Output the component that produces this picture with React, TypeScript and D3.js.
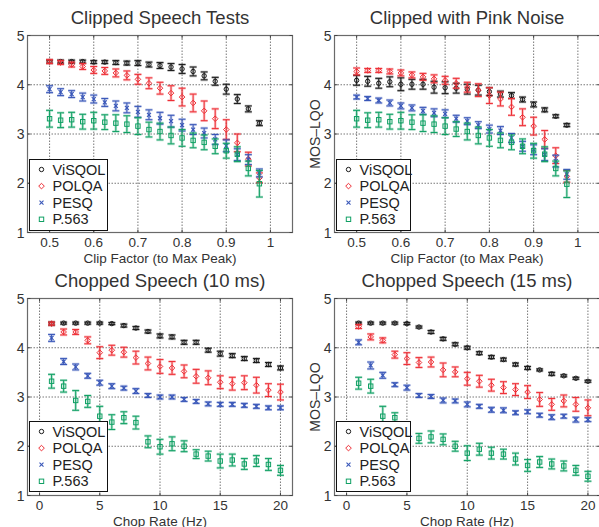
import React, { useEffect, useRef } from 'react';
import * as d3 from 'd3';

// methods and their colours
const methods = ['ViSQOL', 'POLQA', 'PESQ', 'P.563'];
const colors = ['#1a1a1a', '#ee2f36', '#3856b8', '#10a064'];

// x values
const clipFactors = [0.5, 0.525, 0.55, 0.575, 0.6, 0.625, 0.65, 0.675, 0.7, 0.725, 0.75, 0.775, 0.8, 0.825, 0.85, 0.875, 0.9, 0.925, 0.95, 0.975];
const chopRates = [1, 2, 3, 4, 5, 6, 7, 8, 9, 10, 11, 12, 13, 14, 15, 16, 17, 18, 19, 20];

// tick labels
const yTicks = [1, 2, 3, 4, 5];
const clipTicks = [0.5, 0.6, 0.7, 0.8, 0.9, 1];
const chopTicks = [0, 5, 10, 15, 20];

// Clipped Speech Tests
const csVisqol = [4.47, 4.47, 4.47, 4.47, 4.46, 4.46, 4.45, 4.44, 4.44, 4.41, 4.39, 4.36, 4.32, 4.27, 4.18, 4.07, 3.91, 3.71, 3.51, 3.22];
const csVisqolErr = [0.03, 0.03, 0.03, 0.03, 0.03, 0.03, 0.04, 0.04, 0.05, 0.05, 0.06, 0.07, 0.09, 0.09, 0.08, 0.08, 0.1, 0.09, 0.06, 0.05];
const csPolqa = [4.47, 4.45, 4.41, 4.37, 4.3, 4.28, 4.24, 4.19, 4.11, 4.03, 3.93, 3.83, 3.75, 3.63, 3.47, 3.31, 3.09, 2.82, 2.49, 2.11];
const csPolqaErr = [0.04, 0.04, 0.05, 0.06, 0.07, 0.07, 0.08, 0.09, 0.1, 0.11, 0.12, 0.15, 0.18, 0.18, 0.2, 0.2, 0.2, 0.18, 0.14, 0.1];
const csPesq = [3.91, 3.85, 3.81, 3.75, 3.71, 3.64, 3.57, 3.53, 3.45, 3.39, 3.32, 3.26, 3.18, 3.09, 3.02, 2.89, 2.76, 2.58, 2.48, 2.21];
const csPesqErr = [0.07, 0.07, 0.07, 0.08, 0.08, 0.08, 0.1, 0.1, 0.11, 0.1, 0.12, 0.12, 0.12, 0.1, 0.1, 0.1, 0.12, 0.12, 0.1, 0.08];
const csP563 = [3.31, 3.28, 3.29, 3.25, 3.27, 3.24, 3.22, 3.2, 3.16, 3.09, 3.05, 2.97, 2.92, 2.87, 2.83, 2.75, 2.66, 2.59, 2.3, 1.99];
const csP563Err = [0.17, 0.15, 0.15, 0.15, 0.17, 0.15, 0.17, 0.17, 0.17, 0.15, 0.17, 0.17, 0.17, 0.15, 0.15, 0.15, 0.15, 0.15, 0.15, 0.27];

// Clipped with Pink Noise
const pnVisqol = [4.09, 4.07, 4.03, 4.06, 4.01, 4.01, 4.01, 3.95, 3.94, 3.93, 3.91, 3.89, 3.86, 3.81, 3.78, 3.7, 3.6, 3.49, 3.36, 3.18];
const pnVisqolErr = [0.1, 0.1, 0.1, 0.1, 0.13, 0.1, 0.1, 0.12, 0.12, 0.1, 0.1, 0.1, 0.08, 0.06, 0.06, 0.05, 0.05, 0.04, 0.03, 0.03];
const pnPolqa = [4.27, 4.29, 4.29, 4.27, 4.24, 4.2, 4.16, 4.12, 4.09, 4.03, 3.95, 3.89, 3.78, 3.71, 3.55, 3.34, 3.16, 2.89, 2.56, 2.14];
const pnPolqaErr = [0.07, 0.04, 0.04, 0.05, 0.06, 0.06, 0.07, 0.08, 0.08, 0.1, 0.1, 0.13, 0.16, 0.14, 0.17, 0.17, 0.18, 0.18, 0.16, 0.12];
const pnPesq = [3.75, 3.72, 3.68, 3.63, 3.57, 3.53, 3.47, 3.43, 3.41, 3.31, 3.26, 3.18, 3.1, 3.07, 2.92, 2.75, 2.68, 2.58, 2.45, 2.18];
const pnPesqErr = [0.04, 0.04, 0.05, 0.06, 0.06, 0.06, 0.07, 0.08, 0.08, 0.07, 0.07, 0.07, 0.08, 0.08, 0.09, 0.1, 0.1, 0.12, 0.12, 0.1];
const pnP563 = [3.31, 3.28, 3.29, 3.25, 3.27, 3.24, 3.22, 3.2, 3.16, 3.1, 3.05, 2.97, 2.92, 2.87, 2.83, 2.75, 2.66, 2.59, 2.3, 1.98];
const pnP563Err = [0.17, 0.15, 0.15, 0.15, 0.17, 0.15, 0.17, 0.17, 0.17, 0.15, 0.17, 0.17, 0.17, 0.15, 0.15, 0.15, 0.15, 0.15, 0.15, 0.27];

// Chopped Speech (10 ms)
const c10Visqol = [4.49, 4.5, 4.5, 4.5, 4.5, 4.49, 4.45, 4.4, 4.33, 4.24, 4.22, 4.11, 4.11, 3.95, 3.88, 3.84, 3.78, 3.74, 3.66, 3.59];
const c10VisqolErr = [0.03, 0.02, 0.02, 0.02, 0.02, 0.02, 0.03, 0.03, 0.03, 0.04, 0.04, 0.04, 0.04, 0.04, 0.05, 0.04, 0.04, 0.04, 0.04, 0.04];
const c10Polqa = [4.49, 4.32, 4.32, 4.15, 3.9, 3.95, 3.91, 3.8, 3.68, 3.62, 3.59, 3.52, 3.42, 3.39, 3.3, 3.27, 3.29, 3.24, 3.14, 3.1];
const c10PolqaErr = [0.03, 0.06, 0.05, 0.07, 0.12, 0.1, 0.1, 0.13, 0.13, 0.14, 0.13, 0.13, 0.14, 0.14, 0.13, 0.13, 0.14, 0.16, 0.13, 0.16];
const c10Pesq = [4.2, 3.72, 3.61, 3.43, 3.29, 3.22, 3.18, 3.12, 3.03, 3.0, 3.0, 2.95, 2.91, 2.86, 2.85, 2.85, 2.83, 2.81, 2.78, 2.78];
const c10PesqErr = [0.07, 0.06, 0.06, 0.05, 0.05, 0.05, 0.04, 0.05, 0.04, 0.04, 0.04, 0.04, 0.04, 0.04, 0.04, 0.04, 0.04, 0.04, 0.04, 0.04];
const c10P563 = [3.32, 3.22, 2.93, 2.91, 2.61, 2.49, 2.58, 2.48, 2.09, 1.99, 2.05, 2.0, 1.84, 1.8, 1.7, 1.72, 1.64, 1.7, 1.63, 1.51];
const c10P563Err = [0.14, 0.12, 0.2, 0.12, 0.2, 0.15, 0.12, 0.13, 0.12, 0.15, 0.14, 0.11, 0.09, 0.1, 0.14, 0.12, 0.11, 0.11, 0.12, 0.1];

// Chopped Speech (15 ms)
const c15Visqol = [4.5, 4.5, 4.5, 4.5, 4.49, 4.42, 4.32, 4.18, 4.07, 4.0, 3.89, 3.81, 3.76, 3.66, 3.59, 3.55, 3.47, 3.43, 3.38, 3.32];
const c15VisqolErr = [0.02, 0.02, 0.02, 0.02, 0.02, 0.02, 0.03, 0.03, 0.03, 0.03, 0.03, 0.03, 0.03, 0.03, 0.03, 0.02, 0.03, 0.02, 0.02, 0.02];
const c15Polqa = [4.43, 4.22, 4.15, 3.86, 3.78, 3.7, 3.71, 3.55, 3.51, 3.37, 3.32, 3.24, 3.19, 3.15, 3.1, 2.95, 2.85, 2.92, 2.85, 2.78];
const c15PolqaErr = [0.04, 0.06, 0.05, 0.07, 0.12, 0.1, 0.1, 0.14, 0.1, 0.13, 0.12, 0.12, 0.12, 0.12, 0.13, 0.14, 0.12, 0.12, 0.14, 0.16];
const c15Pesq = [4.11, 3.64, 3.44, 3.25, 3.19, 3.03, 3.01, 2.93, 2.92, 2.85, 2.81, 2.74, 2.73, 2.68, 2.7, 2.63, 2.59, 2.61, 2.54, 2.54];
const c15PesqErr = [0.05, 0.07, 0.06, 0.04, 0.05, 0.04, 0.04, 0.05, 0.04, 0.05, 0.04, 0.05, 0.05, 0.04, 0.04, 0.04, 0.05, 0.04, 0.05, 0.04];
const c15P563 = [3.28, 3.22, 2.61, 2.58, 2.35, 2.16, 2.19, 2.14, 2.0, 1.86, 1.94, 1.86, 1.84, 1.74, 1.61, 1.68, 1.64, 1.6, 1.51, 1.39];
const c15P563Err = [0.12, 0.14, 0.2, 0.1, 0.12, 0.1, 0.12, 0.11, 0.1, 0.15, 0.12, 0.12, 0.1, 0.12, 0.12, 0.11, 0.1, 0.1, 0.1, 0.1];

const W = 599;
const H = 527;
const FONT = '"Liberation Sans", Arial, Helvetica, sans-serif';
const PANEL_W = 265; // nominal plot width, used to centre titles

const panels = [
  {
    title: 'Clipped Speech Tests', xs: clipFactors, xDomain: [0.45, 1.05], xTicks: clipTicks,
    xLabel: 'Clip Factor (to Max Peak)', yLabel: '',
    means: [csVisqol, csPolqa, csPesq, csP563], errs: [csVisqolErr, csPolqaErr, csPesqErr, csP563Err],
    left: 27.5, right: 292.5, top: 35.5, bottom: 232.5, legend: [29.5, 159.5, 78, 71],
  },
  {
    title: 'Clipped with Pink Noise', xs: clipFactors, xDomain: [0.45, 1.05], xTicks: clipTicks,
    xLabel: 'Clip Factor (to Max Peak)', yLabel: 'MOS–LQO',
    means: [pnVisqol, pnPolqa, pnPesq, pnP563], errs: [pnVisqolErr, pnPolqaErr, pnPesqErr, pnP563Err],
    left: 334.5, right: 600, top: 35.5, bottom: 232.5, legend: [336.5, 159.5, 74, 71],
  },
  {
    title: 'Chopped Speech (10 ms)', xs: chopRates, xDomain: [-1, 21], xTicks: chopTicks,
    xLabel: 'Chop Rate (Hz)', yLabel: '',
    means: [c10Visqol, c10Polqa, c10Pesq, c10P563], errs: [c10VisqolErr, c10PolqaErr, c10PesqErr, c10P563Err],
    left: 27.5, right: 292.5, top: 298.5, bottom: 495.5, legend: [29.5, 421.5, 78, 70],
  },
  {
    title: 'Chopped Speech (15 ms)', xs: chopRates, xDomain: [-1, 21], xTicks: chopTicks,
    xLabel: 'Chop Rate (Hz)', yLabel: 'MOS–LQO',
    means: [c15Visqol, c15Polqa, c15Pesq, c15P563], errs: [c15VisqolErr, c15PolqaErr, c15PesqErr, c15P563Err],
    left: 334.5, right: 600, top: 298.5, bottom: 495.5, legend: [336.5, 421.5, 74, 70],
  },
];

// draw one marker shape centred at 0,0
function drawMarker(g, k, color) {
  if (k === 0) {
    g.append('circle').attr('r', 2.2).attr('fill', 'none').attr('stroke', color).attr('stroke-width', 1);
  } else if (k === 1) {
    g.append('path').attr('d', 'M0,-2.8L2.8,0L0,2.8L-2.8,0Z').attr('fill', 'none').attr('stroke', color).attr('stroke-width', 1);
  } else if (k === 2) {
    g.append('path').attr('d', 'M-2,-2L2,2M-2,2L2,-2').attr('stroke', color).attr('stroke-width', 1.1);
  } else {
    g.append('rect').attr('x', -2.2).attr('y', -2.2).attr('width', 4.4).attr('height', 4.4)
      .attr('fill', 'none').attr('stroke', color).attr('stroke-width', 1);
  }
}

export default function App() {
  const svgRef = useRef(null);

  useEffect(() => {
    const svg = d3.select(svgRef.current);
    svg.selectAll('*').remove();

    panels.forEach(p => {
      const x = d3.scaleLinear().domain(p.xDomain).range([p.left, p.right]);
      const y = d3.scaleLinear().domain([1, 5]).range([p.bottom, p.top]);
      const mid = p.left + PANEL_W / 2;
      const g = svg.append('g');

      // title
      g.append('text')
        .attr('x', mid).attr('y', p.top - 12)
        .attr('text-anchor', 'middle')
        .style('font-size', '18.5px')
        .attr('fill', '#333')
        .text(p.title);

      // grid
      const grid = g.append('g').attr('stroke', '#555').attr('stroke-width', 0.8).attr('stroke-dasharray', '1.5,1.5');
      p.xTicks.forEach(t => {
        grid.append('line').attr('x1', x(t)).attr('x2', x(t)).attr('y1', p.top).attr('y2', p.bottom);
      });
      yTicks.slice(1, -1).forEach(t => {
        grid.append('line').attr('x1', p.left).attr('x2', p.right).attr('y1', y(t)).attr('y2', y(t));
      });

      // error bars and markers
      p.means.forEach((vals, k) => {
        const color = colors[k];
        const s = g.append('g');
        vals.forEach((v, i) => {
          const e = p.errs[k][i];
          const px = x(p.xs[i]);
          const y0 = y(v - e);
          const y1 = y(v + e);
          const d = `M${px},${y0}V${y1}M${px - 3.5},${y0}H${px + 3.5}M${px - 3.5},${y1}H${px + 3.5}`;
          // soft halo
          s.append('path').attr('d', d)
            .attr('stroke', color).attr('stroke-opacity', 0.3).attr('stroke-width', 2.6).attr('fill', 'none');
          s.append('path').attr('d', d)
            .attr('stroke', color).attr('stroke-width', 1).attr('fill', 'none');
          const m = s.append('g').attr('transform', `translate(${px},${y(v)})`);
          drawMarker(m, k, color);
        });
      });

      // frame
      g.append('rect')
        .attr('x', p.left).attr('y', p.top)
        .attr('width', p.right - p.left).attr('height', p.bottom - p.top)
        .attr('fill', 'none').attr('stroke', '#6a6a6a').attr('stroke-width', 1.2);

      // inward ticks
      const ticks = g.append('g').attr('stroke', '#444').attr('stroke-width', 1);
      p.xTicks.forEach(t => {
        ticks.append('line').attr('x1', x(t)).attr('x2', x(t)).attr('y1', p.bottom).attr('y2', p.bottom - 3);
        ticks.append('line').attr('x1', x(t)).attr('x2', x(t)).attr('y1', p.top).attr('y2', p.top + 3);
      });
      yTicks.forEach(t => {
        ticks.append('line').attr('x1', p.left).attr('x2', p.left + 3).attr('y1', y(t)).attr('y2', y(t));
        ticks.append('line').attr('x1', p.right).attr('x2', p.right - 3).attr('y1', y(t)).attr('y2', y(t));
      });

      // tick labels
      p.xTicks.forEach(t => {
        g.append('text')
          .attr('x', x(t)).attr('y', p.bottom + 14.5)
          .attr('text-anchor', 'middle')
          .style('font-size', '13.5px').attr('fill', '#333')
          .text(String(t));
      });
      yTicks.forEach(t => {
        g.append('text')
          .attr('x', p.left - 3).attr('y', y(t) + 5)
          .attr('text-anchor', 'end')
          .style('font-size', '14px').attr('fill', '#333')
          .text(String(t));
      });

      // axis labels
      g.append('text')
        .attr('x', mid).attr('y', p.bottom + 30)
        .attr('text-anchor', 'middle')
        .style('font-size', '13.5px').attr('fill', '#333')
        .text(p.xLabel);
      if (p.yLabel) {
        g.append('text')
          .attr('transform', `translate(${p.left - 15},${(p.top + p.bottom) / 2}) rotate(-90)`)
          .attr('text-anchor', 'middle')
          .style('font-size', '14px').attr('fill', '#333')
          .text(p.yLabel);
      }

      // legend
      const [lx, ly, lw, lh] = p.legend;
      const leg = g.append('g');
      leg.append('rect').attr('x', lx).attr('y', ly).attr('width', lw).attr('height', lh)
        .attr('fill', '#fff').attr('stroke', '#111').attr('stroke-width', 1);
      methods.forEach((name, k) => {
        const ry = ly + 10 + k * 16.6;
        const m = leg.append('g').attr('transform', `translate(${lx + 12},${ry})`);
        drawMarker(m, k, colors[k]);
        leg.append('text')
          .attr('x', lx + 23).attr('y', ry + 5)
          .style('font-size', '14.5px').attr('fill', '#222')
          .text(name);
      });
    });
  }, []);

  return (
    <svg
      ref={svgRef}
      width={W}
      height={H}
      style={{ position: 'absolute', left: 0, top: 0, fontFamily: FONT, background: '#fff' }}
    />
  );
}
